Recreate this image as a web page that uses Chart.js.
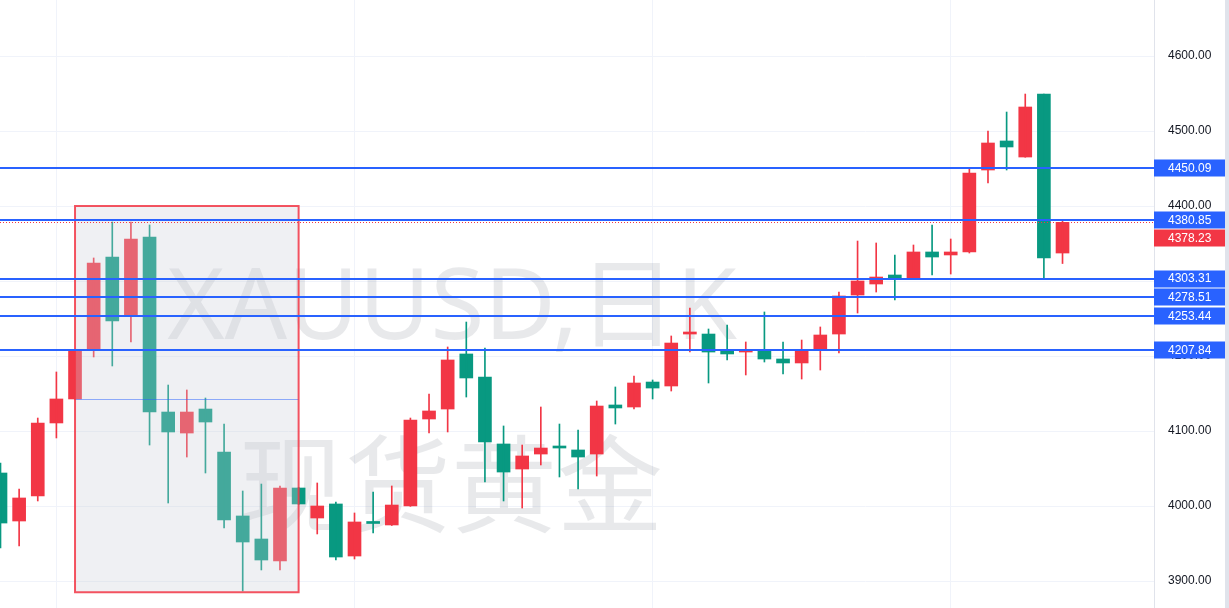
<!DOCTYPE html>
<html>
<head>
<meta charset="utf-8">
<script src="https://cdn.jsdelivr.net/npm/chart.js@4.4.1/dist/chart.umd.min.js"></script>
<style>
  html, body { margin:0; padding:0; background:#fff; overflow:hidden; }
  #wrap { position:relative; width:1229px; height:608px; }
</style>
</head>
<body>
<div id="wrap"><canvas id="kline" width="1229" height="608"></canvas></div>
<script>
// daily candles (oldest first)
const opens = [4044.0, 3980.0, 4013.3, 4110.7, 4142.7, 4208.0, 4332.0, 4254.7, 4358.7, 4125.3,
  4097.3, 4129.3, 4072.0, 3986.7, 3956.0, 3926.7, 4024.0, 3984.0, 4002.7, 3933.3,
  3978.0, 3974.7, 4000.0, 4116.0, 4129.3, 4202.7, 4172.0, 4082.7, 4049.3, 4069.3,
  4080.0, 4074.7, 4069.3, 4134.7, 4132.0, 4165.3, 4160.0, 4229.3, 4229.3, 4206.7,
  4205.3, 4206.7, 4196.0, 4190.7, 4209.3, 4229.3, 4281.3, 4296.0, 4308.0, 4302.7,
  4338.7, 4334.7, 4338.7, 4448.0, 4486.7, 4465.3, 4549.3, 4337.3];
const highs = [4057.3, 4022.7, 4117.3, 4178.7, 4207.5, 4330.7, 4378.7, 4378.7, 4374.7, 4161.3,
  4154.7, 4144.0, 4109.3, 4020.0, 4029.3, 4026.7, 4025.0, 4030.7, 4005.3, 3990.7,
  4018.7, 4026.7, 4117.3, 4149.3, 4212.0, 4245.3, 4210.7, 4106.7, 4081.3, 4132.0,
  4109.3, 4101.3, 4140.0, 4158.7, 4173.3, 4168.0, 4226.7, 4264.0, 4236.0, 4241.3,
  4218.7, 4258.7, 4218.7, 4221.3, 4238.7, 4285.3, 4353.3, 4350.7, 4334.7, 4348.0,
  4374.7, 4356.0, 4450.7, 4500.0, 4525.3, 4549.3, 4549.3, 4380.85];
const lows = [3944.0, 3946.7, 4006.7, 4090.7, 4142.0, 4198.7, 4186.7, 4218.7, 4081.3, 4004.0,
  4065.3, 4044.0, 3970.7, 3886.7, 3914.7, 3914.7, 4002.0, 3962.7, 3928.0, 3929.3,
  3964.0, 3974.0, 3999.5, 4097.3, 4098.7, 4145.3, 4032.0, 4006.7, 3997.3, 4054.7,
  4038.7, 4022.7, 4040.0, 4109.3, 4129.3, 4142.7, 4153.3, 4205.3, 4164.0, 4194.7,
  4174.7, 4192.0, 4176.0, 4169.3, 4181.3, 4204.0, 4257.3, 4285.3, 4274.7, 4302.0,
  4308.0, 4309.3, 4337.3, 4430.7, 4448.0, 4465.0, 4302.7, 4323.3];
const closes = [3977.3, 4010.7, 4110.7, 4142.7, 4206.7, 4324.0, 4246.7, 4356.0, 4125.3, 4098.7,
  4125.3, 4112.0, 3981.3, 3952.0, 3928.0, 4024.0, 4002.7, 4000.0, 3932.0, 3978.7,
  3976.7, 4001.3, 4114.7, 4126.7, 4194.7, 4170.7, 4085.3, 4045.3, 4066.7, 4077.3,
  4077.3, 4065.3, 4133.3, 4130.7, 4164.0, 4157.3, 4217.3, 4232.0, 4205.3, 4202.7,
  4206.7, 4196.0, 4190.7, 4206.7, 4228.0, 4280.0, 4300.0, 4305.3, 4304.0, 4338.7,
  4332.0, 4338.7, 4444.0, 4484.0, 4478.7, 4532.0, 4330.7, 4378.23];

// horizontal levels drawn on the chart, and the last price
const levels = [4450.09, 4380.85, 4303.31, 4278.51, 4253.44, 4207.84];
const lastPrice = 4378.23;
const priceTicks = [3900, 4000, 4100, 4200, 4300, 4400, 4500, 4600];
const timeGrid = [3, 19, 35, 51];
const watermarkLines = ['XAUUSD,日K', '现货黄金'];

// the grey box drawn over part of the chart (candle index / price)
const boxFrom = 4, boxTo = 16, boxTop = 4400, boxBottom = 3885, boxInnerLine = 4142.7;

const UP = '#F23645', DOWN = '#089981', BLUE = '#2962FF';
const candleColors = opens.map((o, i) => closes[i] >= o ? UP : DOWN);

// watermark under the candles
const watermark = {
  id: 'watermark',
  beforeDatasetsDraw(c) {
    const g = c.ctx;
    g.save();
    g.fillStyle = 'rgba(120,123,134,0.17)';
    g.textAlign = 'center';
    g.textBaseline = 'alphabetic';
    g.font = '120px "Noto Sans", "Noto Sans CJK SC", sans-serif';
    let w = g.measureText(watermarkLines[0]).width;
    g.font = Math.round(120 * 570 / w) + 'px "Noto Sans", "Noto Sans CJK SC", sans-serif';
    g.fillText(watermarkLines[0], 452, 339);
    g.font = '120px "Noto Sans CJK SC", sans-serif';
    w = g.measureText(watermarkLines[1]).width;
    g.font = Math.round(120 * 425 / w) + 'px "Noto Sans CJK SC", sans-serif';
    g.textBaseline = 'middle';
    g.fillText(watermarkLines[1], 451, 484);
    g.restore();
  }
};

// rectangle + level lines over the candles, price tags on the axis
const drawings = {
  id: 'drawings',
  afterDatasetsDraw(c) {
    const g = c.ctx, xs = c.scales.x, ys = c.scales.y, a = c.chartArea;
    g.save();
    const x1 = xs.getPixelForValue(boxFrom), x2 = xs.getPixelForValue(boxTo);
    const y1 = ys.getPixelForValue(boxTop), y2 = ys.getPixelForValue(boxBottom);
    g.fillStyle = 'rgba(204,207,216,0.31)';
    g.fillRect(x1, y1, x2 - x1, y2 - y1);
    g.strokeStyle = 'rgba(41,98,255,0.5)';
    g.lineWidth = 1;
    const yi = Math.round(ys.getPixelForValue(boxInnerLine)) + 0.5;
    g.beginPath(); g.moveTo(x1, yi); g.lineTo(x2, yi); g.stroke();
    g.strokeStyle = 'rgba(242,54,69,0.85)';
    g.lineWidth = 2;
    g.strokeRect(x1, y1, x2 - x1, y2 - y1);

    // last price dotted line
    const yl = Math.round(ys.getPixelForValue(lastPrice)) + 0.5;
    g.strokeStyle = UP;
    g.lineWidth = 1;
    g.setLineDash([1, 2]);
    g.beginPath(); g.moveTo(a.left, yl); g.lineTo(a.right, yl); g.stroke();
    g.setLineDash([]);

    g.strokeStyle = BLUE;
    g.lineWidth = 2;
    levels.forEach(v => {
      const y = Math.round(ys.getPixelForValue(v));
      g.beginPath(); g.moveTo(a.left, y); g.lineTo(a.right, y); g.stroke();
    });
    g.restore();
  },
  afterDraw(c) {
    const g = c.ctx, ys = c.scales.y, a = c.chartArea;
    const tags = levels.map(v => ({ v, color: BLUE }));
    tags.push({ v: lastPrice, color: UP });
    tags.forEach(t => t.y = ys.getPixelForValue(t.v));
    tags.sort((p, q) => p.y - q.y);
    const h = 18;
    for (let i = 1; i < tags.length; i++) {
      if (tags[i].y - tags[i - 1].y < h) tags[i].y = tags[i - 1].y + h;
    }
    g.save();
    g.font = '12px "Liberation Sans", Arial, sans-serif';
    g.textBaseline = 'middle';
    g.textAlign = 'left';
    tags.forEach(t => {
      g.fillStyle = t.color;
      g.fillRect(a.right, Math.round(t.y - h / 2) + 0.5, 71, h - 1);
      g.fillStyle = '#fff';
      g.fillText(t.v.toFixed(2), a.right + 14, t.y + 0.5);
    });
    // scrollbar strip on the far right
    g.fillStyle = '#e0e3eb';
    g.fillRect(1225, 0, 4, 608);
    g.restore();
  }
};

const idx = opens.map((_, i) => i);
const ctx = document.getElementById('kline').getContext('2d');
new Chart(ctx, {
  type: 'bar',
  data: {
    datasets: [
      {
        label: 'wick',
        data: idx.map(i => ({ x: i, y: [lows[i], highs[i]] })),
        backgroundColor: candleColors,
        barThickness: 1,
        grouped: false
      },
      {
        label: 'body',
        data: idx.map(i => ({ x: i, y: [opens[i], closes[i]] })),
        backgroundColor: candleColors,
        barThickness: 13,
        minBarLength: 2,
        grouped: false
      }
    ]
  },
  options: {
    responsive: false,
    animation: false,
    layout: { padding: 0 },
    plugins: { legend: { display: false }, tooltip: { enabled: false } },
    scales: {
      x: {
        type: 'linear',
        offset: false,
        min: -0.0268,
        max: 61.91,
        ticks: { display: false },
        grid: { color: '#f0f3fa', drawTicks: false, offset: false },
        border: { display: false },
        afterBuildTicks: s => { s.ticks = timeGrid.map(v => ({ value: v })); },
        afterFit: s => { s.height = 0; s.paddingLeft = 0; s.paddingRight = 0; }
      },
      y: {
        position: 'right',
        min: 3864,
        max: 4674.667,
        afterBuildTicks: s => { s.ticks = priceTicks.map(v => ({ value: v })); },
        afterFit: s => { s.width = 75; s.paddingTop = 0; s.paddingBottom = 0; },
        ticks: {
          callback: v => v.toFixed(2),
          color: '#131722',
          font: { size: 12, family: '"Liberation Sans", Arial, sans-serif' },
          padding: 14,
          crossAlign: 'near'
        },
        grid: { color: '#f0f3fa', drawTicks: false },
        border: { color: '#e0e3eb' }
      }
    }
  },
  plugins: [watermark, drawings]
});
</script>
</body>
</html>
